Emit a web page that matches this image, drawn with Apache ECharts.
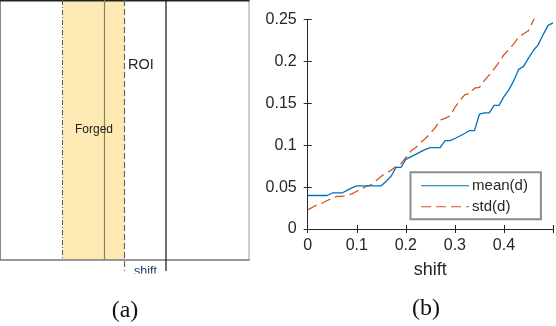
<!DOCTYPE html>
<html>
<head>
<meta charset="utf-8">
<script src="https://cdn.jsdelivr.net/npm/echarts@6/dist/echarts.min.js"></script>
<style>
html,body{margin:0;padding:0;background:#fff;}
#chart{width:556px;height:326px;}
</style>
</head>
<body>
<div id="chart"></div>
<script>
// Data for panel (b)
const shiftValues = [0.00,0.01,0.02,0.03,0.04,0.05,0.06,0.07,0.08,0.09,
  0.10,0.11,0.12,0.13,0.14,0.15,0.16,0.17,0.18,0.19,
  0.20,0.21,0.22,0.23,0.24,0.25,0.26,0.27,0.28,0.29,
  0.30,0.31,0.32,0.33,0.34,0.35,0.36,0.37,0.38,0.39,
  0.40,0.41,0.42,0.43,0.44,0.45,0.46,0.47,0.48,0.49,0.50];
const meanValues = [0.040,0.040,0.040,0.040,0.040,0.043,0.043,0.043,0.046,0.049,
  0.0515,0.0515,0.0515,0.0515,0.0515,0.0515,0.057,0.063,0.0735,0.0735,
  0.083,0.086,0.089,0.092,0.095,0.097,0.097,0.097,0.1055,0.1055,
  0.108,0.111,0.114,0.1175,0.1175,0.137,0.1385,0.1385,0.1475,0.1475,
  0.158,0.166,0.177,0.1905,0.194,0.204,0.213,0.220,0.232,0.243,0.246];
const stdValues = [0.0228,0.026,0.029,0.031,0.034,0.037,0.039,0.039,0.040,0.042,
  0.045,0.048,0.051,0.053,0.058,0.063,0.067,0.070,0.0745,0.078,
  0.085,0.093,0.097,0.103,0.108,0.114,0.121,0.130,0.132,0.135,
  0.145,0.153,0.160,0.162,0.168,0.169,0.177,0.184,0.191,0.199,
  0.208,0.214,0.221,0.229,0.233,0.2365,0.249,0.260];
const xTicks = [0, 0.1, 0.2, 0.3, 0.4];
const yTicks = [0, 0.05, 0.1, 0.15, 0.2, 0.25];
const seriesNames = ['mean(d)', 'std(d)'];
const captions = ['(a)', '(b)'];
const diagramLabels = ['ROI', 'Forged', 'shift'];

const meanData = meanValues.map((v, i) => [shiftValues[i], v]);
const stdData = stdValues.map((v, i) => [shiftValues[i], v]);

const axisColor = '#262626';
const chart = echarts.init(document.getElementById('chart'), null, {renderer: 'canvas'});

const fmtX = v => (xTicks.indexOf(Math.round(v * 100) / 100) >= 0 ? String(Math.round(v * 100) / 100) : '');

const option = {
  animation: false,
  backgroundColor: '#fff',
  grid: {left: 307.7, top: 19.5, right: 1.7, bottom: 97, containLabel: false},
  xAxis: [{
    type: 'value', min: 0, max: 0.5, interval: 0.1,
    axisLine: {lineStyle: {color: axisColor, width: 1}},
    axisTick: {inside: true, length: 4, lineStyle: {color: axisColor}},
    axisLabel: {formatter: fmtX, color: axisColor, fontSize: 16, fontFamily: 'Liberation Sans', margin: 9},
    splitLine: {show: false},
    name: 'shift', nameLocation: 'middle', nameGap: 32,
    nameTextStyle: {fontSize: 18, color: axisColor, fontFamily: 'Liberation Sans'}
  }, {
    type: 'value', min: 0, max: 0.5, interval: 0.1, position: 'top',
    axisLine: {show: true, lineStyle: {color: axisColor, width: 1}},
    axisTick: {inside: true, length: 4, lineStyle: {color: axisColor}},
    axisLabel: {show: false}, splitLine: {show: false}
  }],
  yAxis: [{
    type: 'value', min: 0, max: 0.25, interval: 0.05,
    axisLine: {show: true, lineStyle: {color: axisColor, width: 1}},
    axisTick: {show: true, inside: true, length: 4, lineStyle: {color: axisColor}},
    axisLabel: {color: axisColor, fontSize: 16, fontFamily: 'Liberation Sans', margin: 11},
    splitLine: {show: false}
  }, {
    type: 'value', min: 0, max: 0.25, interval: 0.05, position: 'right',
    axisLine: {show: true, lineStyle: {color: axisColor, width: 1}},
    axisTick: {show: true, inside: true, length: 4, lineStyle: {color: axisColor}},
    axisLabel: {show: false}, splitLine: {show: false}
  }],
  legend: {
    orient: 'vertical', left: 410.5, top: 172.3,
    padding: [6, 13, 5, 10], itemGap: 6, itemWidth: 48, itemHeight: 14,
    backgroundColor: '#fff', borderColor: '#8c8c8c', borderWidth: 2, borderRadius: 0,
    itemStyle: {opacity: 0, borderWidth: 0},
    lineStyle: {width: 1.1},
    textStyle: {fontSize: 15, color: axisColor, fontFamily: 'Liberation Sans', padding: [0, 0, 0, -2]},
    data: seriesNames
  },
  series: [{
    name: seriesNames[0], type: 'line', data: meanData, symbol: 'none', clip: true,
    lineStyle: {color: '#0072BD', width: 1.3}, itemStyle: {color: '#0072BD'}, z: 3
  }, {
    name: seriesNames[1], type: 'line', data: stdData, symbol: 'none', clip: true,
    lineStyle: {color: '#D95319', width: 1.3, type: [10, 5]}, itemStyle: {color: '#D95319'}, z: 2
  }],
  graphic: [
    // Panel (a) schematic
    {type: 'rect', shape: {x: 62.5, y: 0, width: 62.5, height: 260}, style: {fill: '#fde9b4'}, silent: true},
    {type: 'line', shape: {x1: 0.5, y1: 0, x2: 0.5, y2: 260}, style: {stroke: '#8a8a8a', lineWidth: 1}},
    {type: 'line', shape: {x1: 249, y1: 0, x2: 249, y2: 260}, style: {stroke: '#9a9a9a', lineWidth: 1}},
    {type: 'line', shape: {x1: 0, y1: 260, x2: 249.5, y2: 260}, style: {stroke: '#777', lineWidth: 1.5}},
    {type: 'line', shape: {x1: 0, y1: 0.75, x2: 249.5, y2: 0.75}, style: {stroke: '#222', lineWidth: 1.5}},
    {type: 'line', shape: {x1: 62.5, y1: 0, x2: 62.5, y2: 260}, style: {stroke: '#555', lineWidth: 1, lineDash: [5, 2, 1, 2]}},
    {type: 'line', shape: {x1: 124.5, y1: 0, x2: 124.5, y2: 271}, style: {stroke: '#666', lineWidth: 1.2, lineDash: [6, 3]}},
    {type: 'line', shape: {x1: 104.5, y1: 0, x2: 104.5, y2: 260}, style: {stroke: '#8c7d5c', lineWidth: 1.2}},
    {type: 'line', shape: {x1: 166, y1: 0, x2: 166, y2: 271}, style: {stroke: '#111', lineWidth: 1.2}},
    {type: 'text', x: 128, y: 65, style: {text: diagramLabels[0], fontSize: 14.5, fontFamily: 'Liberation Sans', fill: '#222', textVerticalAlign: 'middle', verticalAlign: 'middle'}},
    {type: 'text', x: 94, y: 130, style: {text: diagramLabels[1], fontSize: 12, fontFamily: 'Liberation Sans', fill: '#222', align: 'center', verticalAlign: 'middle', textAlign: 'center', textVerticalAlign: 'middle'}},
    {type: 'text', x: 134, y: 265, style: {text: diagramLabels[2], fontSize: 12.5, fontFamily: 'Liberation Sans', fill: '#1d3b6b', verticalAlign: 'top', textVerticalAlign: 'top'}, z: 1},
    {type: 'rect', shape: {x: 128, y: 273.5, width: 36, height: 14}, style: {fill: '#fff'}, z: 2},
    // Captions
    {type: 'text', x: 125, y: 311, style: {text: captions[0], fontSize: 24, fontFamily: 'Liberation Serif', fill: '#111', align: 'center', verticalAlign: 'middle', textAlign: 'center', textVerticalAlign: 'middle'}},
    {type: 'text', x: 426, y: 309, style: {text: captions[1], fontSize: 24, fontFamily: 'Liberation Serif', fill: '#111', align: 'center', verticalAlign: 'middle', textAlign: 'center', textVerticalAlign: 'middle'}}
  ]
};
chart.setOption(option);
</script>
</body>
</html>
